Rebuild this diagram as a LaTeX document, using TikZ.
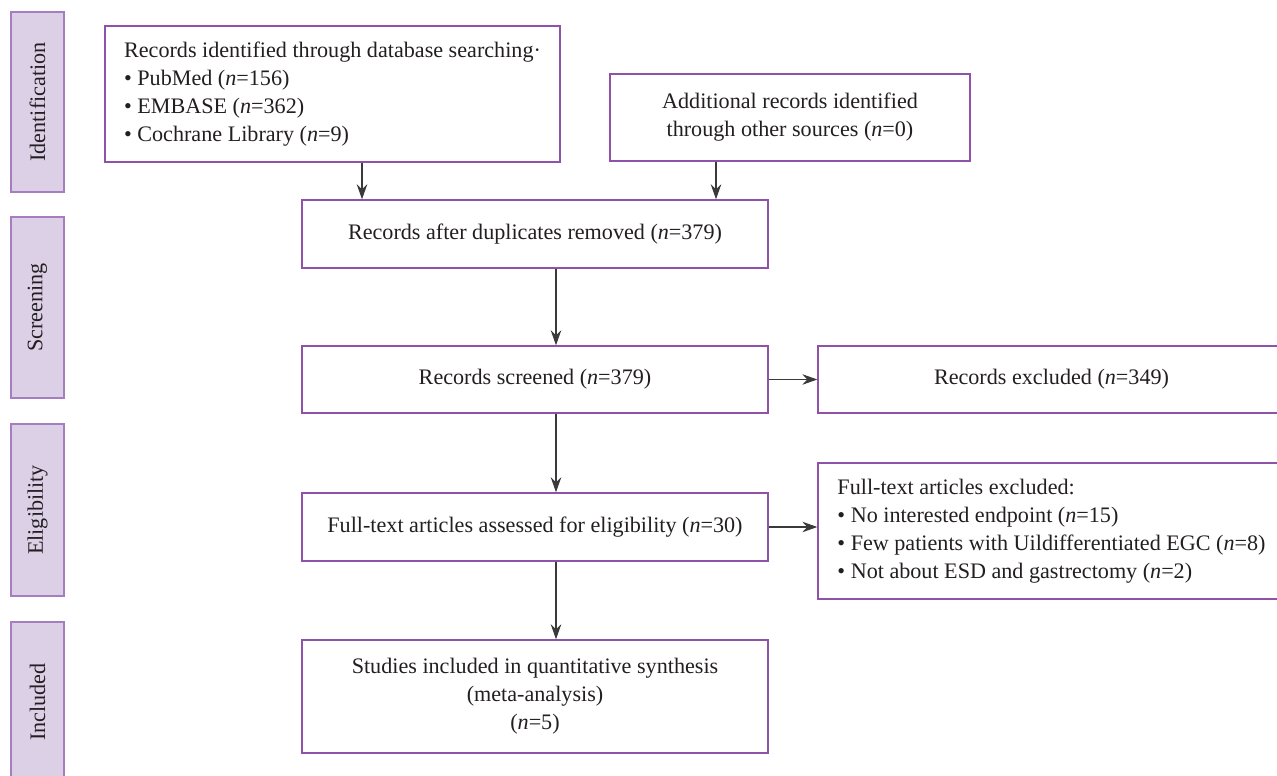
\documentclass[tikz,border=0pt]{standalone}
\usepackage{fontspec}
\setmainfont{Liberation Serif}
\usetikzlibrary{arrows.meta}

\definecolor{boxline}{HTML}{8E52A8}
\definecolor{stagefill}{HTML}{DCD0E6}
\definecolor{stageline}{HTML}{A57DC0}
\definecolor{inktext}{HTML}{231F20}
\definecolor{arrowline}{HTML}{3A3A3A}

\begin{document}
\begin{tikzpicture}[
    x=0.02cm, y=-0.02cm,
    font=\fontsize{12.6}{15.9}\selectfont,
    text=inktext,
    box/.style={rectangle, draw=boxline, line width=0.8pt, fill=white, align=center, inner sep=0pt},
    stage/.style={rectangle, draw=stageline, line width=0.8pt, fill=stagefill, rotate=90, minimum height=1.06cm, inner sep=0pt},
    arrow/.style={-{Stealth[length=3mm, width=2.1mm]}, draw=arrowline, line width=0.6pt}
]
    \useasboundingbox (0,0) rectangle (1277,776);
    \node[stage, minimum width=3.6cm] (s1) at (37.5,102) {Identification};
    \node[stage, minimum width=3.62cm] (s2) at (37.5,307.5) {Screening};
    \node[stage, minimum width=3.44cm] (s3) at (37.5,510) {Eligibility};
    \node[stage, minimum width=3.2cm] (s4) at (37.5,702) {Included};
    \node[box, minimum width=9.1cm, minimum height=2.72cm, align=left] (n1) at (332.5,94)
        {Records identified through database searching·\\• PubMed (\textit{n}=156)\\• EMBASE (\textit{n}=362)\\• Cochrane Library (\textit{n}=9)};
    \node[box, minimum width=7.2cm, minimum height=1.74cm] (n2) at (790,117.5)
        {Additional records identified\\through other sources (\textit{n}=0)};
    \node[box, minimum width=9.32cm, minimum height=1.36cm] (n3) at (535,234) {Records after duplicates removed (\textit{n}=379)};
    \node[box, minimum width=9.32cm, minimum height=1.34cm] (n4) at (535,379.5) {Records screened (\textit{n}=379)};
    \node[box, minimum width=9.34cm, minimum height=1.34cm] (n5) at (1051.5,379.5) {Records excluded (\textit{n}=349)};
    \node[box, minimum width=9.32cm, minimum height=1.36cm] (n6) at (535,527) {Full-text articles assessed for eligibility (\textit{n}=30)};
    \node[box, minimum width=9.34cm, minimum height=2.72cm, align=left] (n7) at (1051.5,531)
        {Full-text articles excluded:\\• No interested endpoint (\textit{n}=15)\\• Few patients with Uildifferentiated EGC (\textit{n}=8)\\• Not about ESD and gastrectomy (\textit{n}=2)};
    \node[box, minimum width=9.32cm, minimum height=2.26cm] (n8) at (535,696.5)
        {Studies included in quantitative synthesis\\(meta-analysis)\\(\textit{n}=5)};
    \coordinate (colA) at (362,0);
    \coordinate (colB) at (716,0);
    \coordinate (colM) at (556,0);
    \draw[arrow] (n1.south -| colA) -- (n3.north -| colA);
    \draw[arrow] (n2.south -| colB) -- (n3.north -| colB);
    \draw[arrow] (n3.south -| colM) -- (n4.north -| colM);
    \draw[arrow] (n4.east) -- (n5.west);
    \draw[arrow] (n4.south -| colM) -- (n6.north -| colM);
    \draw[arrow] (n6.east) -- (n6.east -| n7.west);
    \draw[arrow] (n6.south -| colM) -- (n8.north -| colM);
\end{tikzpicture}
\end{document}
